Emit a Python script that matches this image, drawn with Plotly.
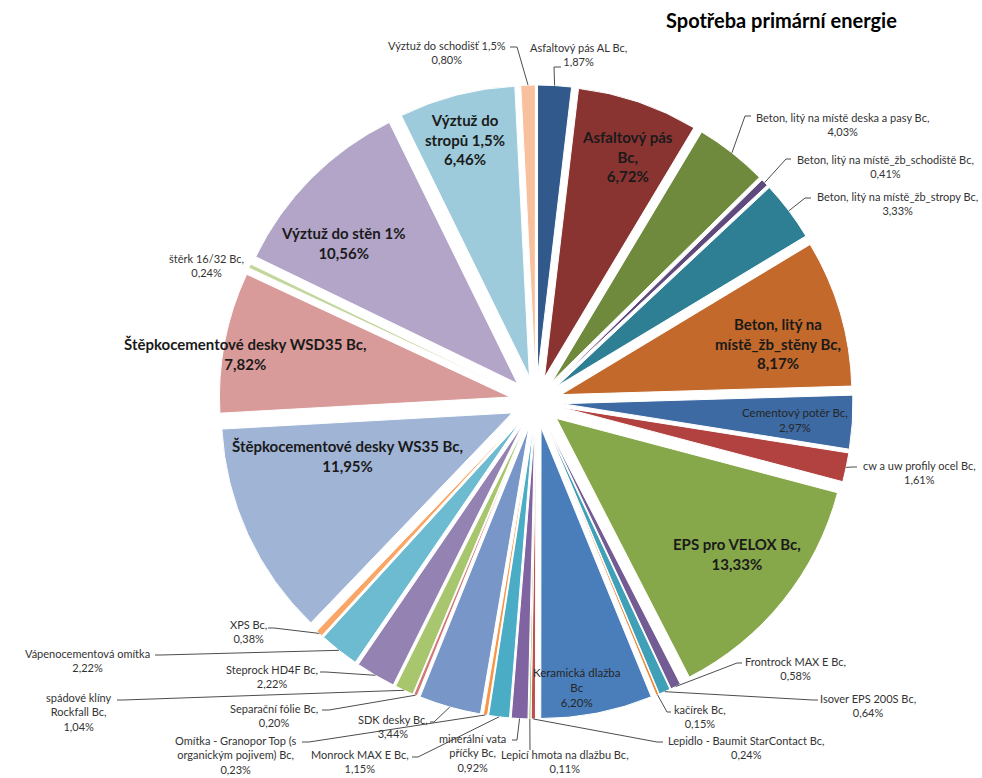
import math
import plotly.graph_objects as go

# Slices, clockwise from 12 o'clock
categories = [
    "Asfaltový pás AL Bc,",
    "Asfaltový pás Bc,",
    "Beton, litý na místě deska a pasy Bc,",
    "Beton, litý na místě_žb_schodiště Bc,",
    "Beton, litý na místě_žb_stropy Bc,",
    "Beton, litý na místě_žb_stěny Bc,",
    "Cementový potěr Bc,",
    "cw a uw profily ocel Bc,",
    "EPS pro VELOX Bc,",
    "Frontrock MAX E Bc,",
    "Isover EPS 200S Bc,",
    "kačírek Bc,",
    "Keramická dlažba Bc",
    "Lepidlo - Baumit StarContact Bc,",
    "Lepicí hmota na dlažbu Bc,",
    "minerální vata příčky Bc,",
    "Monrock MAX E Bc,",
    "Omítka - Granopor Top (s organickým pojivem) Bc,",
    "SDK desky Bc,",
    "Separační fólie Bc,",
    "spádové klíny Rockfall Bc,",
    "Steprock HD4F Bc,",
    "Vápenocementová omítka",
    "XPS Bc,",
    "Štěpkocementové desky WS35 Bc,",
    "Štěpkocementové desky WSD35 Bc,",
    "štěrk 16/32 Bc,",
    "Výztuž do stěn 1%",
    "Výztuž do stropů 1,5%",
    "Výztuž do schodišť 1,5%",
]

# Share of primary energy consumption, %
values = [
    1.87, 6.72, 4.03, 0.41, 3.33, 8.17, 2.97, 1.61, 13.33, 0.58,
    0.64, 0.15, 6.20, 0.24, 0.11, 0.92, 1.15, 0.23, 3.44, 0.20,
    1.04, 2.22, 2.22, 0.38, 11.95, 7.82, 0.24, 10.56, 6.46, 0.80,
]

colors = [
    "#31598b", "#8a3432", "#6f8a3c", "#5e4a7c", "#2f7f94", "#c2692b",
    "#3d6aa3", "#b2423f", "#86a84b", "#735b94", "#3fa0b8", "#e98a3c",
    "#4a7ebb", "#c0504d", "#9bbb59", "#8064a2", "#4bacc6", "#f79646",
    "#7896c8", "#d27a77", "#a8c66e", "#9482b3", "#6cbbd0", "#f9a666",
    "#a0b4d6", "#d99b99", "#c3d69b", "#b2a5c8", "#9dcbdb", "#f9c09e",
]

title = "Spotřeba primární energie"

# ---- figure geometry (pixels) ----
W, H = 982, 778
CX, CY, REACH = 536, 402, 317   # pie centre and outer reach of pulled slices
PULL = 0.09


def fx(x):
    return x / W


def fy(y):
    return 1 - y / H


def pct(v):
    return f"{v:.2f}".replace(".", ",") + "%"


# multi-line versions of some category names
wrapped = {
    "Asfaltový pás Bc,": "Asfaltový pás<br>Bc,",
    "Beton, litý na místě_žb_stěny Bc,": "Beton, litý na<br>místě_žb_stěny Bc,",
    "Keramická dlažba Bc": "Keramická dlažba<br>Bc",
    "minerální vata příčky Bc,": "minerální vata<br>příčky Bc,",
    "Omítka - Granopor Top (s organickým pojivem) Bc,":
        "Omítka - Granopor Top (s<br>organickým pojivem) Bc,",
    "spádové klíny Rockfall Bc,": "spádové klíny<br>Rockfall Bc,",
    "Výztuž do stropů 1,5%": "Výztuž do<br>stropů 1,5%",
}

# label placement: centre of text block, style, and leader start/elbow
BIG, MID, SMALL = "big", "mid", "small"
placement = {
    "Asfaltový pás AL Bc,": ((578, 54.5), SMALL, ((561, 67), (554, 67))),
    "Asfaltový pás Bc,": ((627, 156), BIG, None),
    "Beton, litý na místě deska a pasy Bc,": ((842, 125), SMALL, ((751, 116), (745, 116))),
    "Beton, litý na místě_žb_schodiště Bc,": ((885, 166.5), SMALL, ((791, 159), (786, 159))),
    "Beton, litý na místě_žb_stropy Bc,": ((897, 203.5), SMALL, ((811, 198), (805, 198))),
    "Beton, litý na místě_žb_stěny Bc,": ((778, 344), BIG, None),
    "Cementový potěr Bc,": ((795, 420), MID, None),
    "cw a uw profily ocel Bc,": ((919, 472), SMALL, ((857, 467), (852, 467))),
    "EPS pro VELOX Bc,": ((737, 554), BIG, None),
    "Frontrock MAX E Bc,": ((795, 668), SMALL, ((742, 663), (737, 663))),
    "Isover EPS 200S Bc,": ((868, 705), SMALL, ((818, 700), (813, 700))),
    "kačírek Bc,": ((700, 716), SMALL, ((671, 712), (667, 712))),
    "Keramická dlažba Bc": ((577, 687), MID, None),
    "Lepidlo - Baumit StarContact Bc,": ((746, 747), SMALL, ((663, 742), (657, 742))),
    "Lepicí hmota na dlažbu Bc,": ((565, 761), SMALL, ((530, 750), (530, 750))),
    "minerální vata příčky Bc,": ((472, 753), SMALL, ((512, 740), (517, 740))),
    "Monrock MAX E Bc,": ((360, 761), SMALL, ((412, 757), (418, 757))),
    "Omítka - Granopor Top (s organickým pojivem) Bc,": ((236, 755), SMALL, ((302, 742), (309, 742))),
    "SDK desky Bc,": ((393, 726), SMALL, ((430, 722), (434, 722))),
    "Separační fólie Bc,": ((274, 715), SMALL, ((322, 710), (329, 710))),
    "spádové klíny Rockfall Bc,": ((79, 712), SMALL, ((117, 700), (123, 700))),
    "Steprock HD4F Bc,": ((272, 676), SMALL, ((320, 672), (326, 672))),
    "Vápenocementová omítka": ((87, 660), SMALL, ((155, 655), (161, 655))),
    "XPS Bc,": ((248, 631), SMALL, ((268, 628), (274, 628))),
    "Štěpkocementové desky WS35 Bc,": ((347, 456), BIG, None),
    "Štěpkocementové desky WSD35 Bc,": ((246, 354), BIG, None),
    "štěrk 16/32 Bc,": ((206, 266), SMALL, None),
    "Výztuž do stěn 1%": ((343, 243), BIG, None),
    "Výztuž do stropů 1,5%": ((465, 139), BIG, None),
    "Výztuž do schodišť 1,5%": ((447, 52.5), SMALL, ((510, 47), (517, 47))),
}

FONT = "Lato, 'Open Sans', sans-serif"
styles = {
    BIG: dict(family=FONT, size=15, color="#1a1a1a"),
    MID: dict(family=FONT, size=11.5, color="#262626"),
    SMALL: dict(family=FONT, size=11, color="#333333"),
}

fig = go.Figure(
    go.Pie(
        labels=categories,
        values=values,
        sort=False,
        direction="clockwise",
        rotation=0,
        pull=PULL,
        marker=dict(colors=colors, line=dict(color="white", width=1)),
        textinfo="none",
        hoverinfo="label+percent",
        showlegend=False,
        domain=dict(
            x=[(CX - REACH) / W, (CX + REACH) / W],
            y=[1 - (CY + REACH) / H, 1 - (CY - REACH) / H],
        ),
    )
)

total = sum(values)
annotations = []
shapes = []
cum = 0.0
for name, v in zip(categories, values):
    mid = 2 * math.pi * (cum + v / 2) / total
    cum += v
    # outer edge of the pulled slice along its bisector
    ex = CX + REACH * math.sin(mid)
    ey = CY - REACH * math.cos(mid)

    (lx, ly), kind, lead = placement[name]
    text = wrapped.get(name, name) + "<br>" + pct(v)
    if kind == BIG:
        text = "<b>" + text + "</b>"
    annotations.append(dict(
        x=fx(lx), y=fy(ly), xref="paper", yref="paper",
        text=text, showarrow=False, align="center",
        xanchor="center", yanchor="middle", font=styles[kind],
    ))
    if lead is not None:
        (ax, ay), (bx, by) = lead
        shapes.append(dict(
            type="path", xref="paper", yref="paper",
            path=f"M {fx(ax)},{fy(ay)} L {fx(bx)},{fy(by)} L {fx(ex)},{fy(ey)}",
            line=dict(color="#4d4d4d", width=1),
        ))

annotations.append(dict(
    x=fx(781), y=fy(20), xref="paper", yref="paper",
    text=f"<b>{title}</b>", showarrow=False,
    xanchor="center", yanchor="middle",
    font=dict(family=FONT, size=20, color="#000000"),
))

fig.update_layout(
    width=W, height=H,
    margin=dict(l=0, r=0, t=0, b=0),
    paper_bgcolor="white",
    plot_bgcolor="white",
    annotations=annotations,
    shapes=shapes,
)

fig.write_html("out.html")
